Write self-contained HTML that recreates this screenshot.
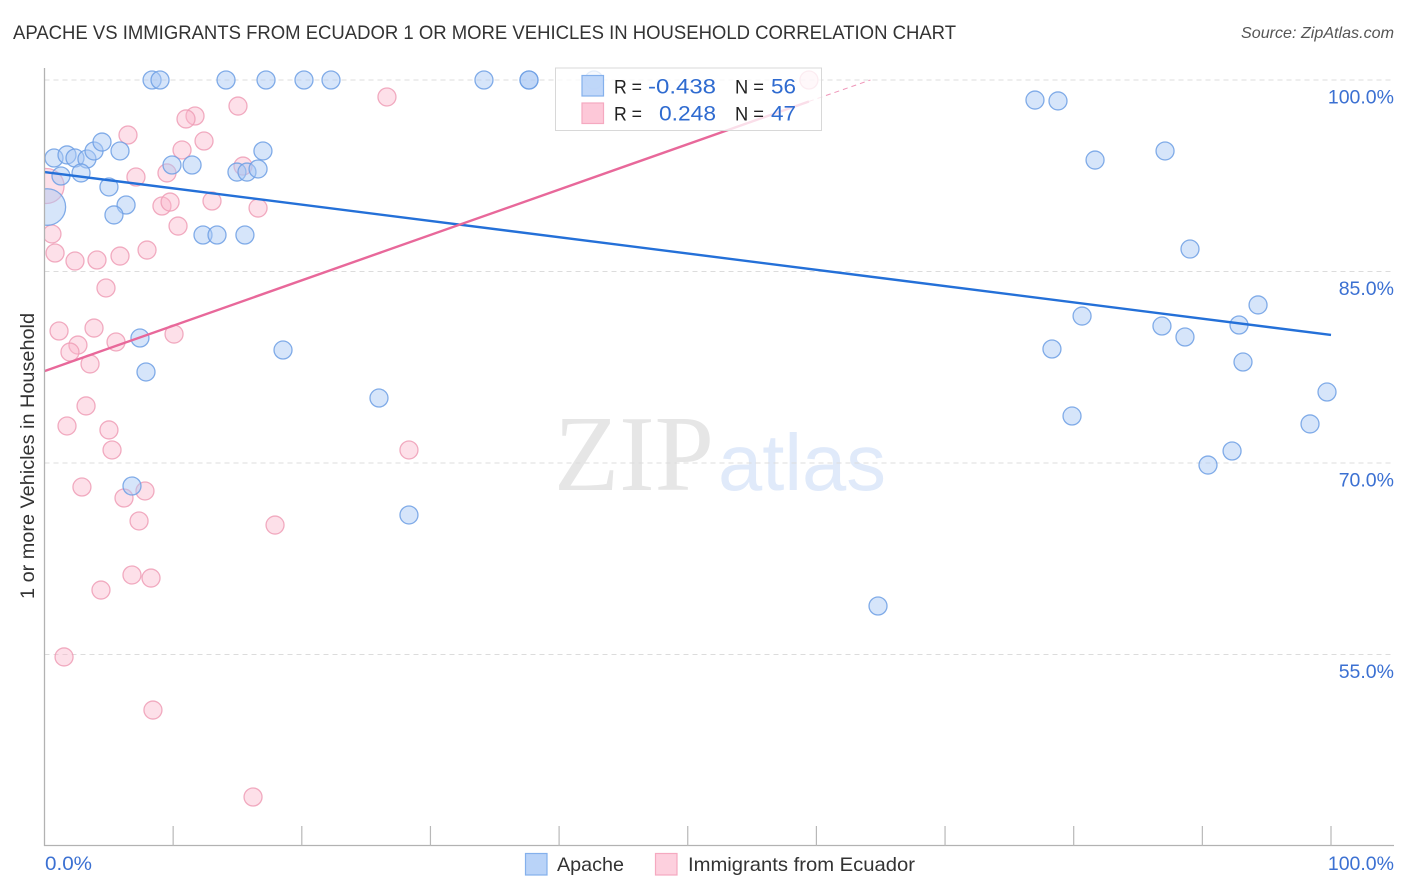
<!DOCTYPE html>
<html lang="en">
<head>
<meta charset="utf-8">
<title>Apache vs Immigrants from Ecuador correlation chart</title>
<style>
html,body{margin:0;padding:0;background:#fff;width:1406px;height:892px;overflow:hidden}
svg{display:block;font-family:"Liberation Sans",sans-serif}
</style>
</head>
<body>
<svg id="chart" width="1406" height="892" viewBox="0 0 1406 892" xmlns="http://www.w3.org/2000/svg">
  <defs><clipPath id="plot-clip"><rect x="44.5" y="60" width="1350" height="786"/></clipPath></defs>
  <text x="13" y="39" font-size="19" fill="#333" textLength="943" lengthAdjust="spacingAndGlyphs">APACHE VS IMMIGRANTS FROM ECUADOR 1 OR MORE VEHICLES IN HOUSEHOLD CORRELATION CHART</text>
  <text x="1394" y="38" font-size="16" font-style="italic" fill="#555" text-anchor="end" textLength="153" lengthAdjust="spacingAndGlyphs">Source: ZipAtlas.com</text>
  <g>
    <text x="554" y="490" font-family="'Liberation Serif',serif" font-size="108" fill="#e6e6e6" textLength="160" lengthAdjust="spacingAndGlyphs">ZIP</text>
    <text x="718" y="490" font-size="80" fill="#e0eafa" textLength="168" lengthAdjust="spacingAndGlyphs">atlas</text>
  </g>
  <g id="grid"></g>
  <g id="pink-points" clip-path="url(#plot-clip)"></g>
  <g id="blue-points" clip-path="url(#plot-clip)"></g>
  <g id="trend"></g>
  <g id="axes"></g>
  <text transform="translate(34,456) rotate(-90)" font-size="19" fill="#333" text-anchor="middle" textLength="286" lengthAdjust="spacingAndGlyphs">1 or more Vehicles in Household</text>
  <g>
    <rect x="555.5" y="68" width="266" height="62.5" fill="#fff" fill-opacity="0.78" stroke="#d8d8d8" stroke-width="1"/>
    <rect x="582" y="75.5" width="21.5" height="20.5" fill="#b9d3f8" fill-opacity="0.9" stroke="#84b0ec" stroke-width="1.2"/>
    <rect x="582" y="103" width="21.5" height="20.5" fill="#fdc8d8" stroke="#f5a9c0" stroke-width="1.2"/>
    <text x="614" y="93.5" font-size="19.5" fill="#222" textLength="28" lengthAdjust="spacingAndGlyphs">R =</text>
    <text x="648" y="93.5" font-size="21" fill="#2f6bd0" textLength="68" lengthAdjust="spacingAndGlyphs">-0.438</text>
    <text x="735" y="93.5" font-size="19.5" fill="#222" textLength="29" lengthAdjust="spacingAndGlyphs">N =</text>
    <text x="771" y="93.5" font-size="21" fill="#2f6bd0" textLength="25" lengthAdjust="spacingAndGlyphs">56</text>
    <text x="614" y="120.5" font-size="19.5" fill="#222" textLength="28" lengthAdjust="spacingAndGlyphs">R =</text>
    <text x="659" y="120.5" font-size="21" fill="#2f6bd0" textLength="57" lengthAdjust="spacingAndGlyphs">0.248</text>
    <text x="735" y="120.5" font-size="19.5" fill="#222" textLength="29" lengthAdjust="spacingAndGlyphs">N =</text>
    <text x="771" y="120.5" font-size="21" fill="#2f6bd0" textLength="25" lengthAdjust="spacingAndGlyphs">47</text>
  </g>
  <g>
    <rect x="525.5" y="853.5" width="21.5" height="21.5" fill="#b9d3f8" stroke="#84b0ec" stroke-width="1.2"/>
    <text x="557" y="871" font-size="19.5" fill="#333" textLength="67" lengthAdjust="spacingAndGlyphs">Apache</text>
    <rect x="655.5" y="853.5" width="21.5" height="21.5" fill="#fdd0de" stroke="#f5a9c0" stroke-width="1.2"/>
    <text x="688" y="871" font-size="19.5" fill="#333" textLength="227" lengthAdjust="spacingAndGlyphs">Immigrants from Ecuador</text>
  </g>
</svg>
<script>
const apacheX = [8.36,8.98,14.11,17.22,20.17,22.27,34.16,37.66,37.66,42.71,0.74,1.75,2.37,3.30,3.85,4.47,5.87,1.28,2.84,5.01,9.91,11.47,14.96,15.74,16.60,16.98,6.34,5.40,12.32,13.41,15.58,7.42,7.89,18.54,26.00,6.80,28.33,64.79,76.99,78.78,81.66,87.10,89.04,94.33,80.65,86.86,88.65,92.85,78.31,93.16,99.69,79.87,98.37,92.31,90.44,0.22];
const apacheY = [100,100,100,100,100,100,100,100,100,100,93.89,94.13,93.89,93.81,94.44,95.14,94.44,92.48,92.72,91.62,93.34,93.34,92.79,92.79,93.03,94.44,90.21,89.43,87.86,87.86,87.86,79.79,77.13,78.85,75.09,68.20,65.93,58.80,98.43,98.36,93.73,94.44,86.76,82.38,81.51,80.73,79.87,80.81,78.93,77.91,75.56,73.68,73.06,70.94,69.84,90.05];
const apacheWeight = [1,1,1,1,1,1,1,1,1,1,1,1,1,1,1,1,1,1,1,1,1,1,1,1,1,1,1,1,1,1,1,1,1,1,1,1,1,1,1,1,1,1,1,1,1,1,1,1,1,1,1,1,1,1,1,4.13];
const ecuadorX = [59.42,26.62,15.04,11.70,11.00,6.49,12.40,10.69,15.43,7.11,9.52,0.16,9.13,9.76,13.02,16.60,10.38,0.58,0.82,7.97,5.87,2.37,4.08,4.78,3.85,1.13,10.07,5.56,2.60,1.98,3.54,3.23,1.75,5.01,5.25,28.33,2.91,7.81,6.18,7.35,17.92,6.80,8.28,4.39,1.52,8.43,16.21];
const ecuadorY = [100,98.67,97.96,97.18,96.95,95.69,95.22,94.52,93.26,92.40,92.72,91.70,90.13,90.44,90.52,89.97,88.56,87.94,86.45,86.68,86.21,85.82,85.90,83.71,80.57,80.34,80.10,79.48,79.24,78.69,77.76,74.47,72.90,72.59,71.02,71.02,68.12,67.81,67.26,65.46,65.14,61.23,60.99,60.05,54.81,50.65,43.84];
const ecuadorWeight = [1,1,1,1,1,1,1,1,1,1,1,3.78,1,1,1,1,1,1,1,1,1,1,1,1,1,1,1,1,1,1,1,1,1,1,1,1,1,1,1,1,1,1,1,1,1,1,1];
const apacheTrendX = [0,100];
const apacheTrendY = [92.79,80.03];
const ecuadorTrendX = [0,59.42,64.2];
const ecuadorTrendY = [77.2,98.32,100];
const yTicks = [100,85,70,55];
const yTickLabels = ["100.0%","85.0%","70.0%","55.0%"];
const xTicks = [0,10,20,30,40,50,60,70,80,90,100];
const xEndLabels = ["0.0%","100.0%"];

const NS = "http://www.w3.org/2000/svg";
const sx = v => 44.5 + v * 12.865;
const sy = v => 80 + (100 - v) * 12.767;
const radius = w => 9 * Math.sqrt(w);
function mk(tag, attrs, parent){
  const el = document.createElementNS(NS, tag);
  for (const k in attrs) el.setAttribute(k, attrs[k]);
  parent.appendChild(el);
  return el;
}
const grid = document.getElementById("grid");
const axes = document.getElementById("axes");
const trend = document.getElementById("trend");
const bluePts = document.getElementById("blue-points");
const pinkPts = document.getElementById("pink-points");

yTicks.forEach((t, i) => {
  const g = mk("line", {x1:44.5, x2:1394, y1:sy(t), y2:sy(t), stroke:"#dcdcdc", "stroke-width":1, "stroke-dasharray":"5 4"}, grid);
  
  
  const l = mk("text", {x:1394, y:sy(t) + 23.5, "font-size":19.5, fill:"#3b70d2", "text-anchor":"end"}, axes);
  l.textContent = yTickLabels[i];
  
  
});

const yAxis = mk("line", {x1:44.5, x2:44.5, y1:68, y2:846, stroke:"#b2b2b2", "stroke-width":1.3}, axes);


const xAxis = mk("line", {x1:44, x2:1394, y1:845.5, y2:845.5, stroke:"#b2b2b2", "stroke-width":1.3}, axes);


xTicks.slice(1).forEach(t => {
  const k = mk("line", {x1:sx(t), x2:sx(t), y1:826, y2:846, stroke:"#b8b8b8", "stroke-width":1.2}, axes);
  
  
});
const x0 = mk("text", {x:sx(xTicks[0]) + 0.5, y:870, "font-size":19.5, fill:"#3b70d2", textLength:47, lengthAdjust:"spacingAndGlyphs"}, axes);
x0.textContent = xEndLabels[0];


const x1 = mk("text", {x:1394, y:870, "font-size":19.5, fill:"#3b70d2", "text-anchor":"end"}, axes);
x1.textContent = xEndLabels[1];



ecuadorX.forEach((v, i) => {
  const c = mk("circle", {cx:sx(v), cy:sy(ecuadorY[i]), r:radius(ecuadorWeight[i]), fill:"#fbb6ca", "fill-opacity":0.42, stroke:"#ef9db6", "stroke-opacity":0.85, "stroke-width":1.3}, pinkPts);
  
  
});
apacheX.forEach((v, i) => {
  const c = mk("circle", {cx:sx(v), cy:sy(apacheY[i]), r:radius(apacheWeight[i]), fill:"#a9c9f5", "fill-opacity":0.48, stroke:"#6d9fe4", "stroke-opacity":0.85, "stroke-width":1.3}, bluePts);
  
  
});

const blueLine = mk("line", {x1:sx(apacheTrendX[0]), y1:sy(apacheTrendY[0]), x2:sx(apacheTrendX[1]), y2:sy(apacheTrendY[1]), stroke:"#2470d8", "stroke-width":2.4}, trend);


const pinkLine = mk("line", {x1:sx(ecuadorTrendX[0]), y1:sy(ecuadorTrendY[0]), x2:sx(ecuadorTrendX[1]), y2:sy(ecuadorTrendY[1]), stroke:"#e8689a", "stroke-width":2.4}, trend);


const pinkDash = mk("line", {x1:sx(ecuadorTrendX[1]), y1:sy(ecuadorTrendY[1]), x2:sx(ecuadorTrendX[2]), y2:sy(ecuadorTrendY[2]), stroke:"#e8689a", "stroke-width":1, "stroke-dasharray":"5 4", "stroke-opacity":0.7}, trend);


</script>
</body>
</html>
